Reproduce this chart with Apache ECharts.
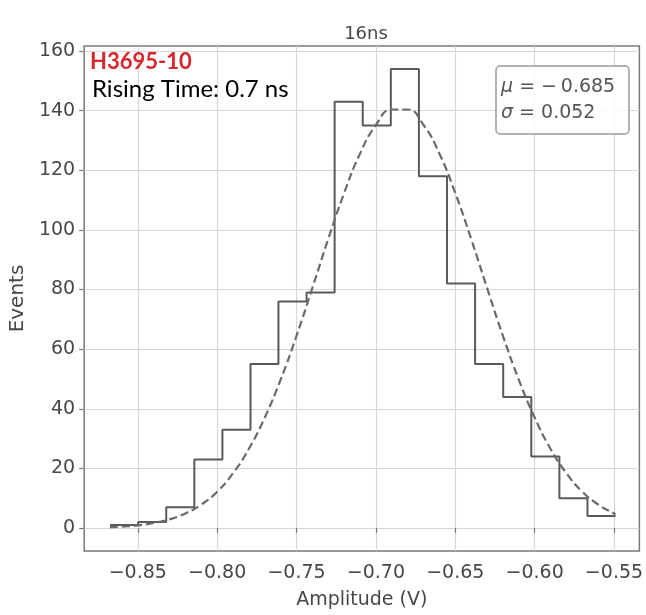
<!DOCTYPE html>
<html>
<head>
<meta charset="utf-8">
<script src="https://cdn.jsdelivr.net/npm/echarts@6.0.0/dist/echarts.min.js"></script>
<style>
  html, body { margin: 0; padding: 0; background: #ffffff; }
  #chart { width: 646px; height: 615px; }
</style>
</head>
<body>
<div id="chart"></div>
<script>
// ---- data ----
const binEdges = [-0.8675, -0.8498, -0.8321, -0.8144, -0.7967, -0.7790, -0.7614, -0.7437, -0.7260,
                  -0.7083, -0.6906, -0.6729, -0.6552, -0.6375, -0.6198, -0.6021, -0.5844, -0.5667, -0.5490];
const binCounts = [1, 2, 7, 23, 33, 55, 76, 79, 143, 135, 154, 118, 82, 55, 44, 24, 10, 4];

const fitX = [-0.8675, -0.86, -0.85, -0.84, -0.83, -0.82, -0.81, -0.80, -0.79, -0.78, -0.77, -0.76,
              -0.75, -0.74, -0.73, -0.72, -0.71, -0.70, -0.69, -0.68, -0.67, -0.66, -0.65, -0.64,
              -0.63, -0.62, -0.61, -0.60, -0.59, -0.58, -0.57, -0.56, -0.55, -0.549];
const fitY = [0.3, 0.5, 0.9, 1.7, 2.9, 4.9, 7.9, 12.2, 18.4, 26.6, 37.1, 49.8,
              64.5, 80.6, 97.0, 112.4, 125.6, 135.2, 140.4, 140.4, 135.2, 125.6, 112.4, 97.0,
              80.6, 64.5, 49.8, 37.1, 26.6, 18.4, 12.2, 7.9, 4.9, 4.6];

const xTicks = [-0.85, -0.80, -0.75, -0.70, -0.65, -0.60, -0.55];
const yTicks = [0, 20, 40, 60, 80, 100, 120, 140, 160];

const titleText = '16ns';
const xName = 'Amplitude (V)';
const yName = 'Events';
const deviceText = 'H3695-10';
const riseText = 'Rising Time: 0.7 ns';
const muText = '\u2212\u20090.685';
const sigmaText = '0.052';

// ---- build series data ----
const histData = binCounts.map((c, i) => [binEdges[i], c]);
histData.push([binEdges[binEdges.length - 1], binCounts[binCounts.length - 1]]);
const fitData = fitX.map((x, i) => [x, fitY[i]]);

const FONT = 'DejaVu Sans';
const TXT = '#474747';
const fmtX = v => (v < 0 ? '\u2212' : '') + Math.abs(v).toFixed(2);

const chart = echarts.init(document.getElementById('chart'), null, { renderer: 'canvas' });
chart.setOption({
  animation: false,
  backgroundColor: '#ffffff',
  title: {
    text: titleText, left: 361, top: 20, textAlign: 'center',
    textStyle: { fontFamily: FONT, fontSize: 18, fontWeight: 'normal', color: TXT }
  },
  grid: {
    left: 82, right: 5, top: 46, bottom: 63, show: true,
    borderColor: '#7a7a7a', borderWidth: 1.5, backgroundColor: 'transparent'
  },
  xAxis: {
    type: 'value', min: -0.8838, max: -0.534,
    name: xName, nameLocation: 'middle', nameGap: 40,
    nameTextStyle: { fontFamily: FONT, fontSize: 19, color: TXT },
    axisLine: { show: false },
    axisTick: { show: true, length: 5, customValues: xTicks, lineStyle: { color: '#7a7a7a', width: 1.2 } },
    axisLabel: { customValues: xTicks, formatter: fmtX, margin: 13,
                 fontFamily: FONT, fontSize: 19, color: TXT },
    splitLine: { show: true, lineStyle: { color: '#d6d6d6', width: 1.2 } }
  },
  yAxis: {
    type: 'value', min: -7.7, max: 161.7,
    name: yName, nameLocation: 'middle', nameGap: 50, nameRotate: 90,
    nameTextStyle: { fontFamily: FONT, fontSize: 20, color: TXT },
    axisLine: { show: false },
    axisTick: { show: true, length: 5, customValues: yTicks, lineStyle: { color: '#7a7a7a', width: 1.2 } },
    axisLabel: { customValues: yTicks, margin: 9, fontFamily: FONT, fontSize: 19, color: TXT },
    splitLine: { show: true, lineStyle: { color: '#d6d6d6', width: 1.2 } }
  },
  series: [
    {
      type: 'line', name: 'hist', data: histData, step: 'end', showSymbol: false, symbol: 'none',
      lineStyle: { color: '#5a5a5a', width: 2 }, z: 3
    },
    {
      type: 'line', name: 'fit', data: fitData, smooth: true, showSymbol: false, symbol: 'none',
      lineStyle: { color: '#6a6a6a', width: 2.2, type: [8, 4] }, z: 4
    }
  ],
  graphic: [
    {
      type: 'text', left: 90, top: 51, z: 10,
      style: { text: deviceText, font: 'bold 22px Lato', fill: '#d8262d' }
    },
    {
      type: 'text', left: 92, top: 77, z: 10,
      style: { text: riseText, font: '24px Lato', fill: '#000000' }
    },
    {
      type: 'rect', z: 10,
      shape: { x: 496, y: 66, width: 133, height: 68, r: 4 },
      style: { fill: 'rgba(255,255,255,0.85)', stroke: '#9a9a9a', lineWidth: 1.5 }
    },
    {
      type: 'text', z: 11, x: 501, y: 87,
      style: {
        text: '{i|μ} = ' + muText, verticalAlign: 'middle',
        font: '19px "DejaVu Sans"', fill: '#555555',
        rich: { i: { fontStyle: 'italic', fontFamily: FONT, fontSize: 19, fill: '#555555' } }
      }
    },
    {
      type: 'text', z: 11, x: 501, y: 113,
      style: {
        text: '{i|σ} = ' + sigmaText, verticalAlign: 'middle',
        font: '19px "DejaVu Sans"', fill: '#555555',
        rich: { i: { fontStyle: 'italic', fontFamily: FONT, fontSize: 19, fill: '#555555' } }
      }
    }
  ]
});
</script>
</body>
</html>
